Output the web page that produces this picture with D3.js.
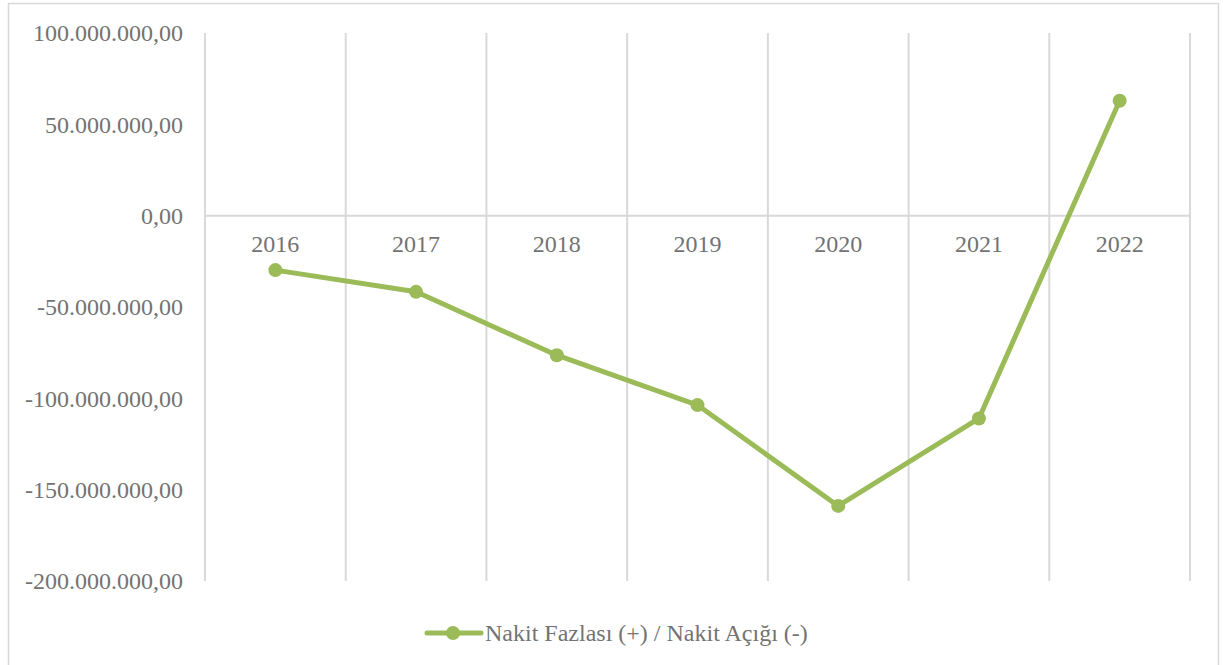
<!DOCTYPE html>
<html>
<head>
<meta charset="utf-8">
<script src="https://cdn.jsdelivr.net/npm/d3@7"></script>
<style>
  body { margin: 0; background: #fff; }
  svg { display: block; }
  text { font-family: "Liberation Serif", "Times New Roman", serif; fill: #737373; }
</style>
</head>
<body>
<svg class="plot" width="1223" height="665"></svg>
<script>
// data
var years = ["2016", "2017", "2018", "2019", "2020", "2021", "2022"];
var cashBalance = [-29800000, -41700000, -76400000, -103700000, -158900000, -111000000, 62900000];
var yTicks = [100000000, 50000000, 0, -50000000, -100000000, -150000000, -200000000];
var seriesName = "Nakit Fazlası (+) / Nakit Açığı (-)";

var margin = {top: 33, right: 33, bottom: 84, left: 205},
    width = 1223 - margin.left - margin.right,
    height = 665 - margin.top - margin.bottom;

var green = "#9bbb59", grid = "#d9d9d9";

var svg = d3.select(".plot");

// outer chart border
svg.append("rect")
    .attr("x", 8.5).attr("y", 3.5)
    .attr("width", 1210).attr("height", 668)
    .attr("fill", "none")
    .attr("stroke", grid)
    .attr("stroke-width", 1.5);

var x = d3.scaleBand()
    .domain(years)
    .range([0, width]);

var y = d3.scaleLinear()
    .domain([-200000000, 100000000])
    .range([height, 0]);

var plot = svg.append("g")
    .attr("transform", `translate(${margin.left}, ${margin.top})`);

// vertical gridlines on category edges
var edges = years.map(d => x(d)).concat([width]);
plot.selectAll("line.vgrid")
    .data(edges)
    .enter()
    .append("line")
    .attr("class", "vgrid")
    .attr("x1", d => d).attr("x2", d => d)
    .attr("y1", 0).attr("y2", height)
    .attr("stroke", grid)
    .attr("stroke-width", 2);

// horizontal axis at zero
plot.append("line")
    .attr("x1", 0).attr("x2", width)
    .attr("y1", y(0)).attr("y2", y(0))
    .attr("stroke", grid)
    .attr("stroke-width", 2);

// y tick labels (Turkish number format)
var fmt = d3.formatLocale({decimal: ",", thousands: ".", grouping: [3], currency: ["", ""], minus: "-"}).format(",.2f");

var yAxis = d3.axisLeft(y)
    .tickValues(yTicks)
    .tickFormat(fmt)
    .tickSize(0)
    .tickPadding(22);

plot.append("g")
    .call(yAxis)
    .call(g => g.select(".domain").remove())
    .selectAll("text")
    .attr("font-family", null)
    .attr("font-size", 24)
    .attr("dy", "0.33em");

// x labels just below zero line
plot.selectAll("text.year")
    .data(years)
    .enter()
    .append("text")
    .attr("class", "year")
    .attr("x", d => x(d) + x.bandwidth() / 2)
    .attr("y", y(0) + 36)
    .attr("text-anchor", "middle")
    .attr("font-size", 24)
    .text(d => d);

var line = d3.line()
    .x((d, i) => x(years[i]) + x.bandwidth() / 2)
    .y(d => y(d));

plot.append("path")
    .datum(cashBalance)
    .attr("d", line)
    .attr("fill", "none")
    .attr("stroke", green)
    .attr("stroke-width", 5)
    .attr("stroke-linejoin", "round");

plot.selectAll("circle")
    .data(cashBalance)
    .enter()
    .append("circle")
    .attr("cx", (d, i) => x(years[i]) + x.bandwidth() / 2)
    .attr("cy", d => y(d))
    .attr("r", 7)
    .attr("fill", green);

// legend
var legend = svg.append("g").attr("transform", "translate(427, 633)");
legend.append("line")
    .attr("x1", 0).attr("x2", 54)
    .attr("y1", 0).attr("y2", 0)
    .attr("stroke", green)
    .attr("stroke-width", 5)
    .attr("stroke-linecap", "round");
legend.append("circle")
    .attr("cx", 26).attr("cy", 0)
    .attr("r", 7)
    .attr("fill", green);
legend.append("text")
    .attr("x", 58).attr("y", 0)
    .attr("dy", "0.33em")
    .attr("font-size", 24)
    .text(seriesName);
</script>
</body>
</html>
